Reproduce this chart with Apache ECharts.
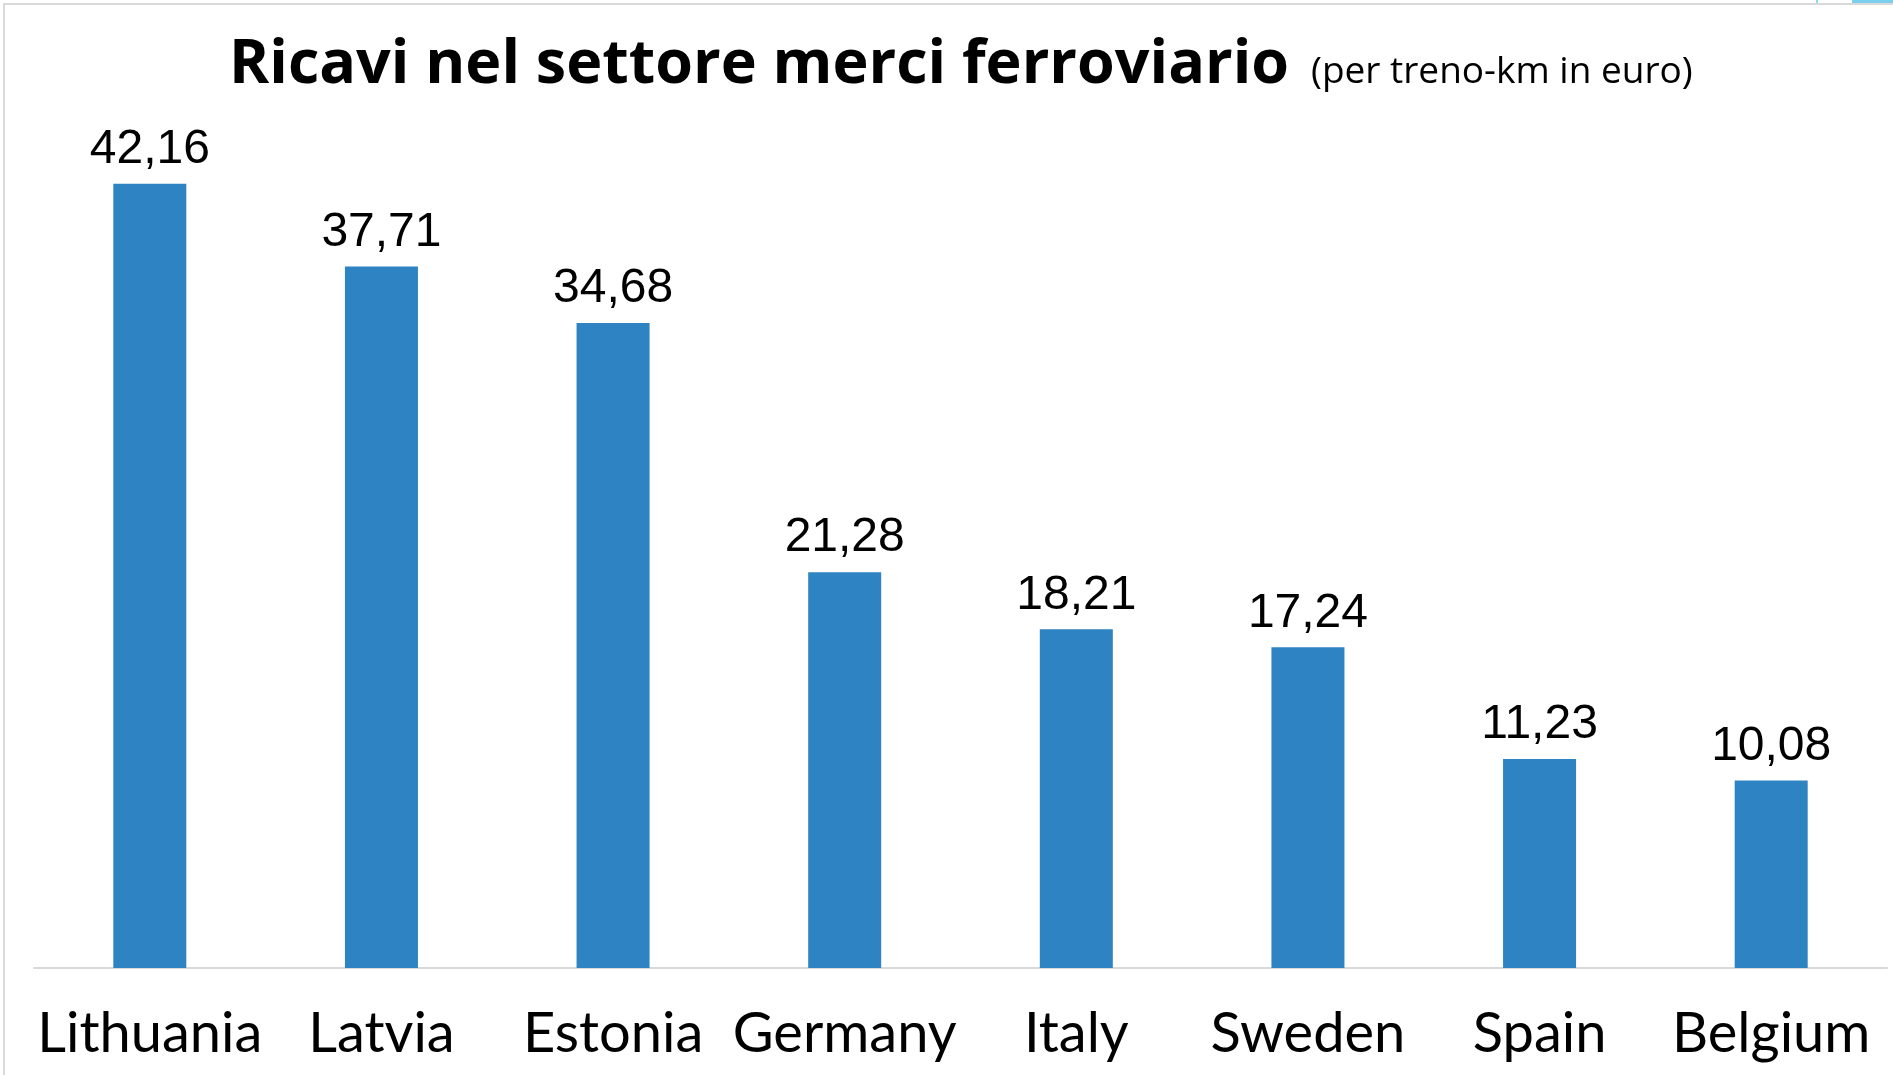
<!DOCTYPE html>
<html>
<head>
<meta charset="utf-8">
<script src="https://cdn.jsdelivr.net/npm/echarts@6/dist/echarts.min.js"></script>
<style>
  html, body { margin: 0; padding: 0; background: #ffffff; }
  #chart { width: 1893px; height: 1075px; }
</style>
</head>
<body>
<div id="chart"></div>
<script>
const countries = ["Lithuania", "Latvia", "Estonia", "Germany", "Italy", "Sweden", "Spain", "Belgium"];
const revenues = [42.16, 37.71, 34.68, 21.28, 18.21, 17.24, 11.23, 10.08];

const myChart = echarts.init(document.getElementById("chart"));
const option = {
  backgroundColor: "#ffffff",
  animation: false,
  title: [
    {
      text: "Ricavi nel settore merci ferroviario",
      left: 224,
      top: 30,
      textStyle: {
        fontFamily: "Open Sans",
        fontWeight: "bold",
        fontSize: 61,
        color: "#000000",
      },
    },
    {
      text: "(per treno-km in euro)",
      left: 1306,
      top: 49,
      textStyle: {
        fontFamily: "Open Sans",
        fontWeight: "normal",
        fontSize: 37,
        color: "#000000",
      },
    },
  ],
  graphic: [
    {
      type: "polyline",
      shape: { points: [[4, 1075], [4, 4], [1893, 4]] },
      style: { stroke: "#d9d9d9", lineWidth: 2, fill: null },
      silent: true,
    },
    {
      type: "rect",
      shape: { x: 1816, y: 0, width: 2, height: 3 },
      style: { fill: "#8fd6f0" },
      silent: true,
    },
    {
      type: "rect",
      shape: { x: 1852, y: 0, width: 41, height: 3 },
      style: { fill: "#7dcfee" },
      silent: true,
    },
  ],
  grid: {
    left: 34,
    right: 6,
    top: 131,
    bottom: 107,
    containLabel: false,
  },
  xAxis: {
    type: "category",
    data: countries,
    axisTick: { show: false },
    axisLine: { lineStyle: { color: "#d9d9d9", width: 2 } },
    axisLabel: {
      interval: 0,
      margin: 38,
      fontFamily: "Lato",
      fontSize: 56,
      color: "#000000",
    },
  },
  yAxis: {
    type: "value",
    min: 0,
    max: 45,
    show: false,
    splitLine: { show: false },
  },
  series: [
    {
      type: "bar",
      data: revenues,
      barWidth: 73,
      itemStyle: { color: "#2e83c3" },
      label: {
        show: true,
        position: "top",
        distance: 10,
        fontFamily: "Liberation Sans",
        fontSize: 48,
        color: "#000000",
        formatter: function (p) {
          return p.value.toFixed(2).replace(".", ",");
        },
      },
      silent: true,
    },
  ],
};
myChart.setOption(option);
</script>
</body>
</html>
